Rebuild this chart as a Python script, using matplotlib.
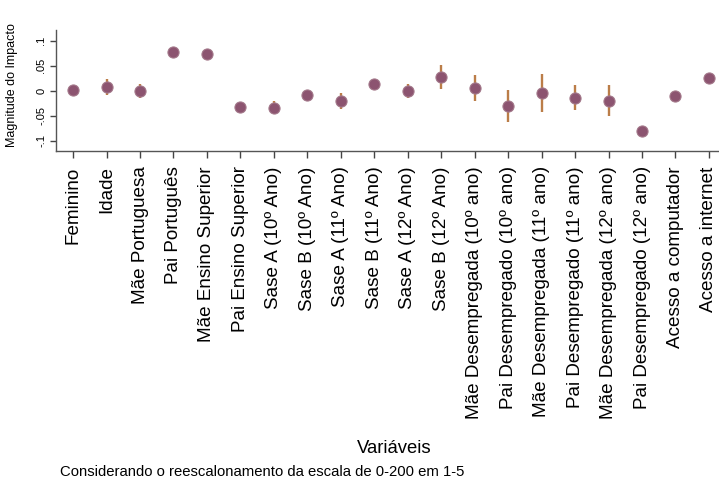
import matplotlib
matplotlib.use("Agg")
import matplotlib.pyplot as plt
import numpy as np

plt.rcParams['font.family'] = ['Liberation Sans', 'DejaVu Sans']

categories = ["Feminino", "Idade", "Mãe Portuguesa", "Pai Português",
              "Mãe Ensino Superior", "Pai Ensino Superior",
              "Sase A (10º Ano)", "Sase B (10º Ano)", "Sase A (11º Ano)",
              "Sase B (11º Ano)", "Sase A (12º Ano)", "Sase B (12º Ano)",
              "Mãe Desempregada (10º ano)", "Pai Desempregado (10º ano)",
              "Mãe Desempregada (11º ano)", "Pai Desempregado (11º ano)",
              "Mãe Desempregada (12º ano)", "Pai Desempregado (12º ano)",
              "Acesso a computador", "Acesso a internet"]
estimate = [0.002, 0.007, -0.001, 0.077, 0.073, -0.032,
            -0.034, -0.009, -0.020, 0.013, -0.001, 0.027,
            0.005, -0.031, -0.004, -0.015, -0.020, -0.081,
            -0.011, 0.025]
ci_low = [0.002, -0.009, -0.014, 0.077, 0.073, -0.032,
          -0.047, -0.009, -0.036, 0.013, -0.014, 0.004,
          -0.021, -0.063, -0.043, -0.039, -0.051, -0.081,
          -0.011, 0.025]
ci_high = [0.002, 0.023, 0.014, 0.077, 0.073, -0.032,
           -0.021, -0.009, -0.005, 0.013, 0.014, 0.051,
           0.032, 0.001, 0.034, 0.011, 0.011, -0.081,
           -0.011, 0.025]
yticks = [-0.1, -0.05, 0, 0.05, 0.1]
yticklabels = ["-.1", "-.05", "0", ".05", ".1"]

W, H = 719, 479
fig = plt.figure(figsize=(W / 100, H / 100), dpi=100)
ax = fig.add_axes([56 / W, 1 - 151 / H, 1 - 56 / W, (151 - 30) / H])

x = np.arange(len(categories))
est = np.array(estimate)
lo = np.array(ci_low)
hi = np.array(ci_high)
ax.vlines(x, lo, hi, color="#bb7d48", lw=1.7, zorder=2)
ax.plot(x, est, "o", ms=8.0, mfc="#8c5470", mec="#a3788a", mew=0.8,
        zorder=3, ls="none")

ax.set_xlim(-0.51, 19.3)
ax.set_ylim(-0.121, 0.121)
ax.set_yticks(yticks)
ax.set_yticklabels(yticklabels, rotation=90, va="center", fontsize=8)
ax.set_xticks(x)
ax.set_xticklabels(categories, rotation=90, fontsize=13.6)
ax.tick_params(axis="x", length=5, width=1, color="#444444", pad=6)
ax.tick_params(axis="y", length=4, width=1, color="#444444", pad=3)

for s in ["top", "right"]:
    ax.spines[s].set_visible(False)
for s in ["left", "bottom"]:
    ax.spines[s].set_color("#555555")
    ax.spines[s].set_linewidth(1)

fig.text(12 / W, 1 - 85 / H, "Magnitude do Impacto", rotation=90,
         ha="center", va="center", fontsize=9)
fig.text(394 / W, 1 - 453 / H, "Variáveis", ha="center", va="baseline",
         fontsize=13.3)
fig.text(60 / W, 1 - 476 / H, "Considerando o reescalonamento da escala de 0-200 em 1-5",
         ha="left", va="baseline", fontsize=10.7)

fig.savefig("out.png", dpi=100)
